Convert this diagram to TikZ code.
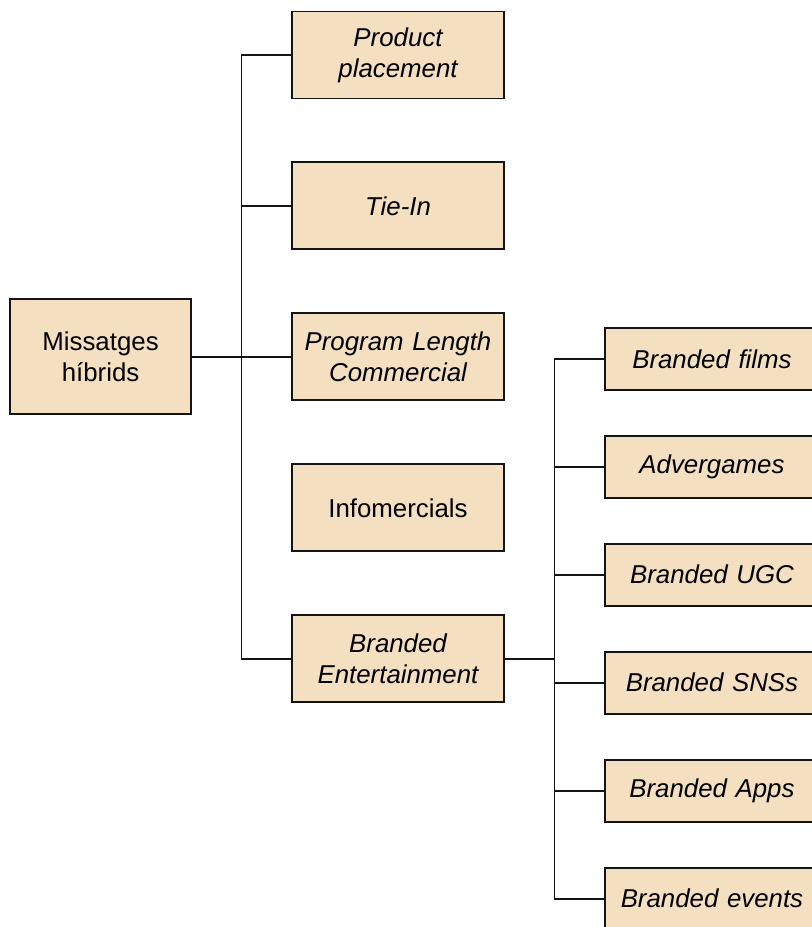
\documentclass[tikz,border=0pt]{standalone}
\usepackage{fontspec}
\setmainfont{Liberation Sans}
\usepackage{tikz}
\usetikzlibrary{positioning, calc}
\definecolor{boxfill}{RGB}{244,224,193}
\definecolor{boxline}{RGB}{20,20,20}
\tikzset{
  mainbox/.style={rectangle, draw=boxline, fill=boxfill,
    text width=3.4cm, align=center, minimum width=3.62cm, minimum height=2.3cm,
    font=\fontsize{14.7}{17.6}\selectfont, line width=1.1pt, inner sep=2pt},
  catbox/.style={rectangle, draw=boxline, fill=boxfill,
    text width=4.1cm, align=center, minimum width=4.24cm, minimum height=1.74cm,
    font=\fontsize{14.7}{17.6}\selectfont\itshape, line width=1.1pt, inner sep=2pt},
  subbox/.style={rectangle, draw=boxline, fill=boxfill,
    text width=4.1cm, align=center, minimum width=4.28cm, minimum height=1.24cm,
    font=\fontsize{14.7}{17.6}\selectfont\itshape, line width=1.1pt, inner sep=2pt},
  line/.style={line width=1.1pt, color=boxline}
}
\begin{document}
\begin{tikzpicture}
  \useasboundingbox (-7.96,1.1) rectangle (8.26,-17.44);
  % first level
  \node[catbox] (pp) at (0,0) {Product\\placement};
  \node[catbox, below=1.24cm of pp] (ti) {Tie-In};
  \node[catbox, below=1.24cm of ti] (pl) {Program Length\\Commercial};
  \node[catbox, below=1.24cm of pl, font=\fontsize{14.7}{17.6}\selectfont] (im) {Infomercials};
  \node[catbox, below=1.24cm of im] (be) {Branded\\Entertainment};
  \node[mainbox, left=1.98cm of pl] (mh) {Missatges\\híbrids};
  % second level
  \node[subbox, right=1.98cm of pl, anchor=west, yshift=-0.04cm] (bf) {Branded films};
  \node[subbox, below=0.88cm of bf] (ag) {Advergames};
  \node[subbox, below=0.88cm of ag] (ugc) {Branded UGC};
  \node[subbox, below=0.88cm of ugc] (sns) {Branded SNSs};
  \node[subbox, below=0.88cm of sns] (apps) {Branded Apps};
  \node[subbox, below=0.88cm of apps] (bev) {Branded events};
  % connectors
  \coordinate (j1) at ($(mh.east)!0.5!(pl.west)$);
  \coordinate (j2) at ($(be.east)!0.5!(be.east -| bf.west)$);
  \draw[line] (mh.east) -- (pl.west);
  \draw[line] (pp.west) -| (j1) |- (be.west);
  \draw[line] (ti.west) -- (ti.west -| j1);
  \draw[line] (be.east) -- (j2);
  \draw[line] (bf.west) -| (j2) |- (bev.west);
  \foreach \n in {ag, ugc, sns, apps}
    \draw[line] (\n.west) -- (\n.west -| j2);
\end{tikzpicture}
\end{document}
